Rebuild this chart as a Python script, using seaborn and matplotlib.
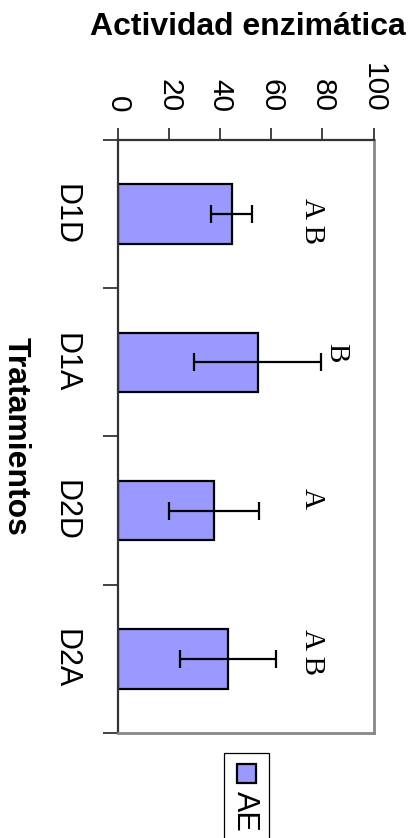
import matplotlib
matplotlib.use("Agg")
import matplotlib.pyplot as plt
import seaborn as sns
import pandas as pd
from matplotlib.patches import Rectangle

# ---- data ----
categories = ["D1D", "D1A", "D2D", "D2A"]
values = [44.5, 54.6, 37.6, 43.0]
errors = [8.0, 24.7, 17.6, 18.8]
letters = ["A B", "B", "A", "A B"]
letter_x = [75.8, 85.3, 75.8, 75.8]
letter_y = [0.047, 0.934, 1.916, 2.955]
value_ticks = [0, 20, 40, 60, 80, 100]
series_name = "AE"

sns.set_theme(style="white")
plt.rcParams["font.family"] = ["Liberation Sans", "DejaVu Sans"]
for k in ["text.color", "axes.labelcolor", "xtick.color", "ytick.color"]:
    plt.rcParams[k] = "black"

W, H = 419, 838
fig = plt.figure(figsize=(W / 100, H / 100), dpi=100)
x0, x1, ytop, ybot = 118, 373.5, 140, 733
ax = fig.add_axes([x0 / W, 1 - ybot / H, (x1 - x0) / W, (ybot - ytop) / H])

df = pd.DataFrame({"cat": categories, "val": values})
bar_color = "#9999FF"
sns.barplot(data=df, y="cat", x="val", orient="h", color=bar_color,
            saturation=1, width=0.4, edgecolor="black", linewidth=1.6,
            errorbar=None, ax=ax)
ax.errorbar(values, range(len(categories)), xerr=errors, fmt="none",
            ecolor="black", elinewidth=1.6, capsize=6.5, capthick=1.6)

for lx, ly, t in zip(letter_x, letter_y, letters):
    ax.text(lx, ly, t, rotation=-90, ha="center", va="center",
            fontsize=21, family=["Liberation Serif", "DejaVu Serif"])

ax.set_xlim(0, 100)
ax.set_ylim(3.5, -0.5)
ax.xaxis.tick_top()
ax.set_xticks(value_ticks)
ax.set_xticklabels([str(v) for v in value_ticks], rotation=-90, fontsize=21.5)
ax.tick_params(axis="x", which="major", direction="out", length=9,
               width=1.2, color="#222222", pad=11, top=True, bottom=False)
ax.set_yticks(range(len(categories)))
ax.set_yticklabels(categories, rotation=-90, fontsize=22, va="center")
ax.set_yticks([-0.5, 0.5, 1.5, 2.5, 3.5], minor=True)
ax.tick_params(axis="y", which="major", length=0, pad=27, left=True)
ax.tick_params(axis="y", which="minor", length=11, width=1.2,
               color="#222222", left=True, direction="out")

ax.set_xlabel("Actividad enzimática", fontsize=23, fontweight="bold")
ax.xaxis.set_label_position("top")
ax.xaxis.label.set_va("center")
ax.xaxis.set_label_coords(0.509, 1.191)
ax.set_ylabel("Tratamientos", fontsize=23, fontweight="bold", rotation=-90,
              va="center", ha="center")
ax.yaxis.set_label_coords(-0.40, 0.5)

for side in ["right", "bottom"]:
    ax.spines[side].set_color("#888888")
    ax.spines[side].set_linewidth(2)
for side in ["top", "left"]:
    ax.spines[side].set_color("#333333")
    ax.spines[side].set_linewidth(1.6)
ax.grid(False)

# ---- manual rotated legend ----
fig.patches.append(Rectangle((224 / W, 1 - 850 / H), 45 / W, 97 / H,
                             transform=fig.transFigure, facecolor="white",
                             edgecolor="black", linewidth=0.9))
fig.patches.append(Rectangle((236.5 / W, 1 - 782.5 / H), 19 / W, 19 / H,
                             transform=fig.transFigure, facecolor=bar_color,
                             edgecolor="black", linewidth=1.6))
fig.text(245 / W, 1 - 791 / H, series_name, rotation=-90, ha="center",
         va="top", fontsize=22)

fig.savefig("out.png", dpi=100)
